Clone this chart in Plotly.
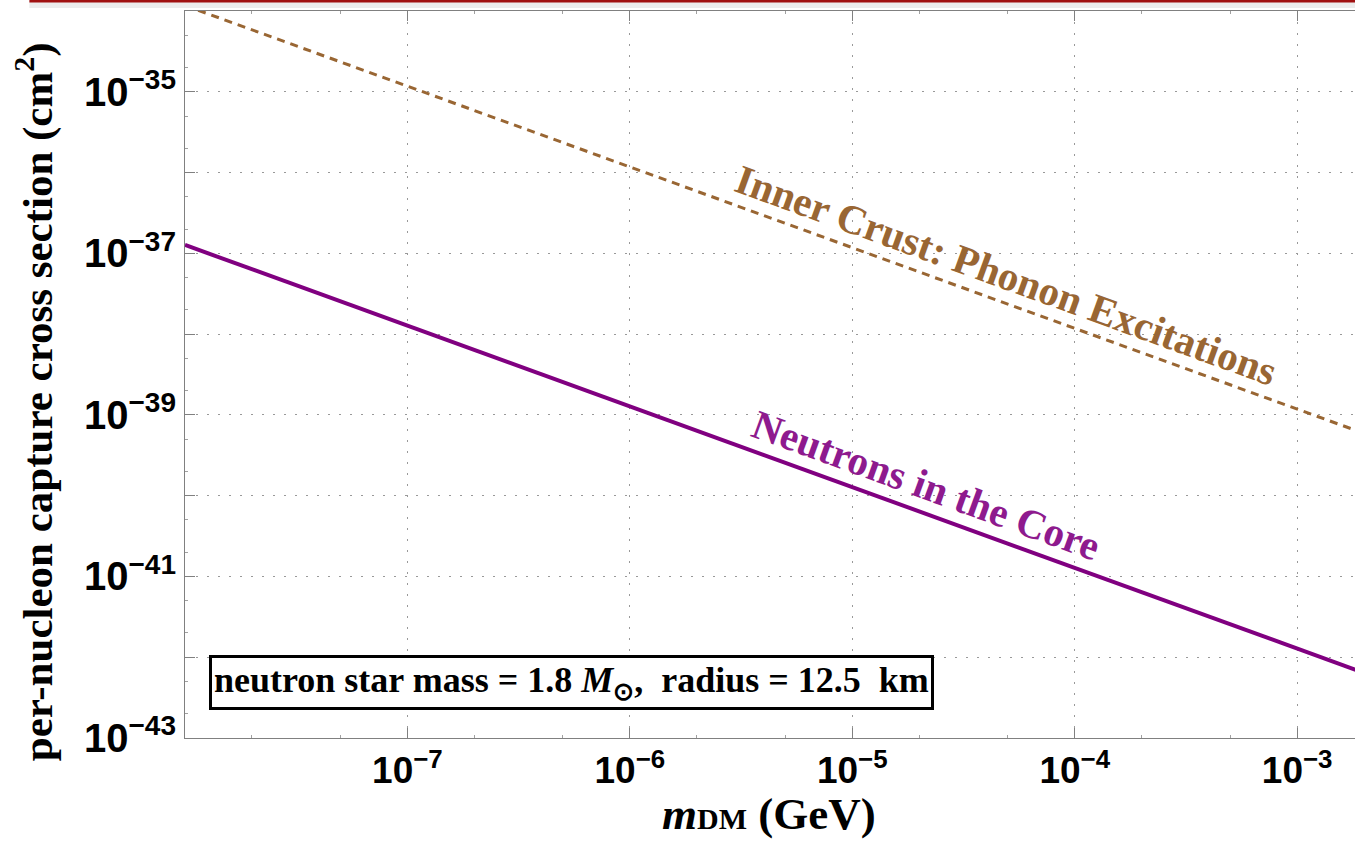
import plotly.graph_objects as go

# ---- data ----
mass_gev = [1e-8, 1e-7, 1e-6, 1e-5, 1e-4, 1e-3, 2e-3]
sigma_core = [1.27e-37, 1.27e-38, 1.27e-39, 1.27e-40, 1.27e-41, 1.27e-42, 6.4e-43]
sigma_crust = [1.17e-34, 1.17e-35, 1.17e-36, 1.17e-37, 1.17e-38, 1.17e-39, 5.9e-40]

x_tickvals = [1e-7, 1e-6, 1e-5, 1e-4, 1e-3]
x_ticktext = ["10<sup>−7</sup>", "10<sup>−6</sup>", "10<sup>−5</sup>", "10<sup>−4</sup>", "10<sup>−3</sup>"]
y_tickvals = [1e-35, 1e-36, 1e-37, 1e-38, 1e-39, 1e-40, 1e-41, 1e-42, 1e-43]
y_ticktext = ["10<sup>−35</sup>", "", "10<sup>−37</sup>", "", "10<sup>−39</sup>", "",
              "10<sup>−41</sup>", "", "10<sup>−43</sup>"]

PURPLE = "#800080"
BROWN = "#996633"
SERIF = "Liberation Serif"
SANS = "Liberation Sans"

fig = go.Figure()
fig.add_trace(go.Scatter(x=mass_gev, y=sigma_crust, mode="lines",
                         line=dict(color=BROWN, width=3, dash="8px,6px"),
                         showlegend=False, hoverinfo="skip"))
fig.add_trace(go.Scatter(x=mass_gev, y=sigma_core, mode="lines",
                         line=dict(color=PURPLE, width=4),
                         showlegend=False, hoverinfo="skip"))

axis_common = dict(showline=True, linecolor="#808080", linewidth=1,
                   showgrid=True, gridcolor="#999999", gridwidth=1, griddash="2px,9px",
                   ticks="inside", ticklen=10, tickcolor="#808080", tickwidth=1,
                   zeroline=False)

fig.update_xaxes(type="log", range=[-8, -2.74], tickvals=x_tickvals, ticktext=x_ticktext,
                 tickfont=dict(family=SANS, size=37, color="black", weight="bold"),
                 mirror="ticks",
                 minor=dict(ticks="inside", ticklen=3, tickcolor="#a0a0a0", showgrid=False),
                 **axis_common)
fig.update_yaxes(type="log", range=[-43, -34], tickvals=y_tickvals, ticktext=y_ticktext,
                 tickfont=dict(family=SANS, size=40, color="black", weight="bold"),
                 minor=dict(ticks="inside", ticklen=3, tickcolor="#a0a0a0", showgrid=False),
                 **axis_common)

annotations = [
    dict(x=-4.31, y=-37.27, xref="x", yref="y", text="Inner Crust: Phonon Excitations",
         textangle=20, showarrow=False, xanchor="center", yanchor="middle",
         font=dict(family=SERIF, size=41, color=BROWN, weight="bold")),
    dict(x=-4.67, y=-39.87, xref="x", yref="y", text="Neutrons in the Core",
         textangle=20, showarrow=False, xanchor="center", yanchor="middle",
         font=dict(family=SERIF, size=41, color="#8e1a8e", weight="bold")),
    dict(x=0.33, y=0.077, xref="paper", yref="paper", xanchor="center", yanchor="middle",
         text="neutron star mass = 1.8 <i>M</i><sub>⊙</sub>,  radius = 12.5  km",
         showarrow=False, bgcolor="white", bordercolor="black", borderwidth=3, borderpad=2,
         font=dict(family=SERIF, size=36, color="black", weight="bold")),
    dict(x=0.499, y=-0.105, xref="paper", yref="paper", xanchor="center", yanchor="middle",
         text="<i>m</i><span style='font-size:30px'>DM</span> (GeV)", showarrow=False,
         font=dict(family=SERIF, size=45, color="black", weight="bold")),
    dict(x=-0.129, y=0.462, xref="paper", yref="paper", textangle=-90,
         xanchor="center", yanchor="middle",
         text="per-nucleon capture cross section (cm<sup>2</sup>)", showarrow=False,
         font=dict(family=SERIF, size=43, color="black", weight="bold")),
]

shapes = [
    dict(type="rect", xref="paper", yref="paper", x0=-0.133, x1=1.0, y0=1.0041, y1=1.0138,
         fillcolor="#ececec", line=dict(width=0), layer="above"),
    dict(type="line", xref="paper", yref="paper", x0=-0.133, x1=1.0, y0=1.0138, y1=1.0138,
         line=dict(color="#a01010", width=3), layer="above"),
]

fig.update_layout(width=1355, height=842, margin=dict(l=185, r=0, t=11, b=104),
                  plot_bgcolor="white", paper_bgcolor="white",
                  annotations=annotations, shapes=shapes)

fig.write_html("out.html")
